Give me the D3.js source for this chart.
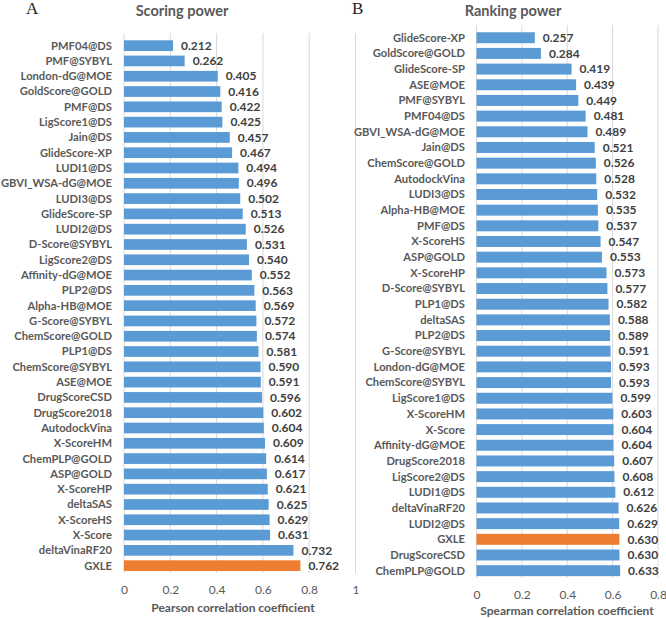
<!DOCTYPE html>
<html><head><meta charset="utf-8">
<script src="https://cdn.jsdelivr.net/npm/d3@7"></script>
<style>body{margin:0;background:#fff}svg{display:block}</style>
</head><body>
<svg id="c" width="666" height="618"></svg>
<script>
const scoringNames = ["PMF04@DS","PMF@SYBYL","London-dG@MOE","GoldScore@GOLD","PMF@DS","LigScore1@DS","Jain@DS","GlideScore-XP","LUDI1@DS","GBVI_WSA-dG@MOE","LUDI3@DS","GlideScore-SP","LUDI2@DS","D-Score@SYBYL","LigScore2@DS","Affinity-dG@MOE","PLP2@DS","Alpha-HB@MOE","G-Score@SYBYL","ChemScore@GOLD","PLP1@DS","ChemScore@SYBYL","ASE@MOE","DrugScoreCSD","DrugScore2018","AutodockVina","X-ScoreHM","ChemPLP@GOLD","ASP@GOLD","X-ScoreHP","deltaSAS","X-ScoreHS","X-Score","deltaVinaRF20","GXLE"];
const scoringValues = [0.212,0.262,0.405,0.416,0.422,0.425,0.457,0.467,0.494,0.496,0.502,0.513,0.526,0.531,0.540,0.552,0.563,0.569,0.572,0.574,0.581,0.590,0.591,0.596,0.602,0.604,0.609,0.614,0.617,0.621,0.625,0.629,0.631,0.732,0.762];
const rankingNames = ["GlideScore-XP","GoldScore@GOLD","GlideScore-SP","ASE@MOE","PMF@SYBYL","PMF04@DS","GBVI_WSA-dG@MOE","Jain@DS","ChemScore@GOLD","AutodockVina","LUDI3@DS","Alpha-HB@MOE","PMF@DS","X-ScoreHS","ASP@GOLD","X-ScoreHP","D-Score@SYBYL","PLP1@DS","deltaSAS","PLP2@DS","G-Score@SYBYL","London-dG@MOE","ChemScore@SYBYL","LigScore1@DS","X-ScoreHM","X-Score","Affinity-dG@MOE","DrugScore2018","LigScore2@DS","LUDI1@DS","deltaVinaRF20","LUDI2@DS","GXLE","DrugScoreCSD","ChemPLP@GOLD"];
const rankingValues = [0.257,0.284,0.419,0.439,0.449,0.481,0.489,0.521,0.526,0.528,0.532,0.535,0.537,0.547,0.553,0.573,0.577,0.582,0.588,0.589,0.591,0.593,0.593,0.599,0.603,0.604,0.604,0.607,0.608,0.612,0.626,0.629,0.630,0.630,0.633];
const scoringTicks = [0,0.2,0.4,0.6,0.8,1];
const rankingTicks = [0,0.2,0.4,0.6,0.8];
const highlight = "GXLE";

const svg = d3.select("#c");
const FONT = "Lato, 'Open Sans', sans-serif";
const BLUE = "#5B9BD5", ORANGE = "#ED7D31", GRID = "#d9d9d9", LABEL = "#595959", VAL = "#404040";

function panel(opt){
  const g = svg.append("g");
  const x = d3.scaleLinear().domain(opt.domain).range(opt.xr);
  const y = d3.scaleBand().domain(opt.names).range(opt.yr).paddingInner(0.3).paddingOuter(0.15);
  g.selectAll("line.grid").data(opt.ticks).join("line")
    .attr("x1", d=>x(d)).attr("x2", d=>x(d))
    .attr("y1", opt.gy[0]).attr("y2", opt.gy[1])
    .attr("stroke", GRID).attr("stroke-width", 1);
  const data = opt.names.map((n,i)=>({n, v: opt.values[i]}));
  g.selectAll("rect").data(data).join("rect")
    .attr("x", x(0)).attr("y", d=>y(d.n))
    .attr("width", d=>x(d.v)-x(0)).attr("height", y.bandwidth())
    .attr("fill", d=>d.n===highlight?ORANGE:BLUE);
  g.selectAll("text.cat").data(data).join("text")
    .attr("x", opt.labelX).attr("y", d=>y(d.n)+y.bandwidth()/2)
    .attr("dy","0.35em").attr("text-anchor","end")
    .attr("font-family", FONT).attr("font-weight","bold").attr("font-size", 11.2)
    .attr("fill", LABEL).text(d=>d.n);
  g.selectAll("text.val").data(data).join("text")
    .attr("x", d=>x(d.v)+8).attr("y", d=>y(d.n)+y.bandwidth()/2)
    .attr("dy","0.35em")
    .attr("font-family", FONT).attr("font-weight","bold").attr("font-size", 12)
    .attr("fill", VAL).text(d=>d3.format(".3f")(d.v));
  const ax = d3.axisBottom(x).tickValues(opt.ticks).tickSize(0).tickPadding(0)
    .tickFormat(d=>d===0?"0":(d===1?"1":d3.format(".1f")(d)));
  const axg = g.append("g").attr("transform",`translate(0,${opt.tickY})`).call(ax);
  axg.select(".domain").remove();
  axg.selectAll("text").attr("font-family", FONT).attr("font-size", 12)
    .attr("fill", LABEL).attr("dy","0.35em");
  g.append("text").attr("x", opt.titleX).attr("y", opt.axTitleY)
    .attr("text-anchor","middle").attr("font-family", FONT).attr("font-weight","bold")
    .attr("font-size", 12).attr("fill", LABEL).text(opt.axTitle);
  g.append("text").attr("x", opt.panelTitleX).attr("y", 16)
    .attr("text-anchor","middle").attr("font-family", FONT).attr("font-weight","bold")
    .attr("font-size", 14.5).attr("fill", LABEL).text(opt.title);
  g.append("text").attr("x", opt.letterX).attr("y", 14)
    .attr("font-family", "'Liberation Serif', 'DejaVu Serif', serif")
    .attr("font-size", 17).attr("fill", "#222").text(opt.letter);
}

panel({names: scoringNames, values: scoringValues, ticks: scoringTicks, domain:[0,1],
  xr:[124,355.5], yr:[38,573.3], gy:[33,573], labelX:112, tickY:590, axTitleY:612,
  titleX:233, axTitle:"Pearson correlation coefficient", panelTitleX:182, title:"Scoring power",
  letterX:26, letter:"A"});
panel({names: rankingNames, values: rankingValues, ticks: rankingTicks, domain:[0,0.8],
  xr:[476.5,658], yr:[29.9,578.5], gy:[25,578], labelX:465, tickY:595, axTitleY:615,
  titleX:567, axTitle:"Spearman  correlation coefficient", panelTitleX:513, title:"Ranking power",
  letterX:352, letter:"B"});
</script>
</body></html>
